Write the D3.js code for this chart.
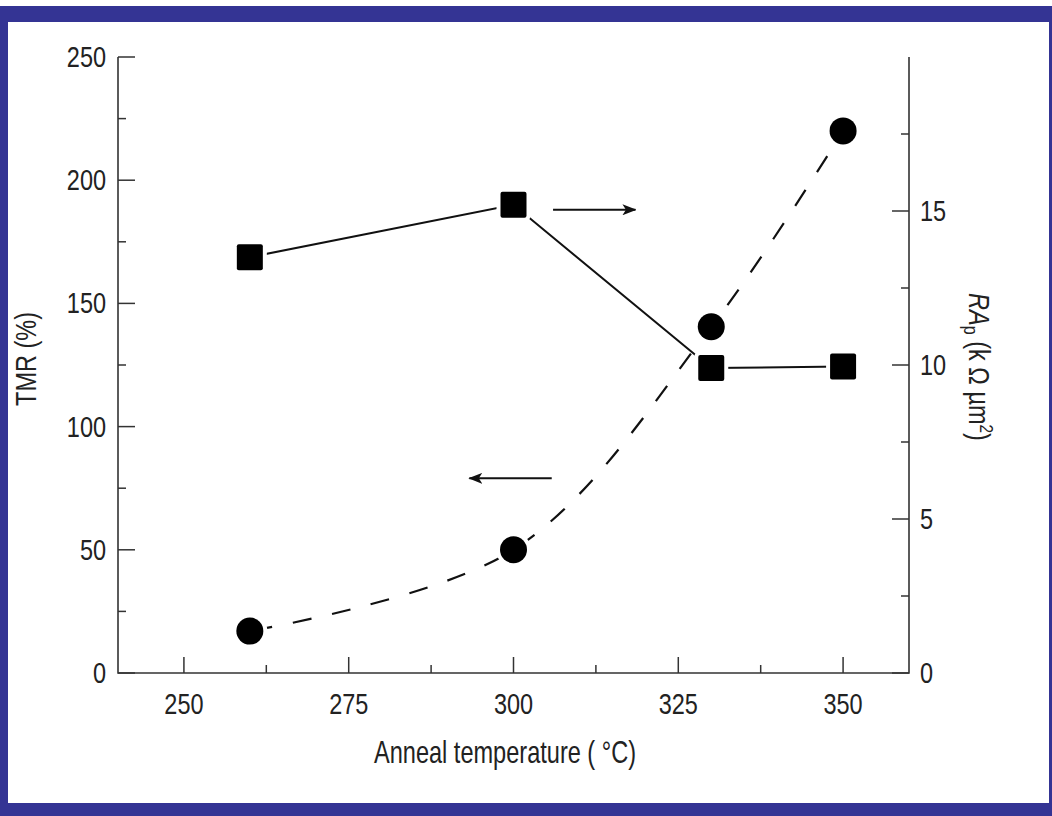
<!DOCTYPE html>
<html>
<head>
<meta charset="utf-8">
<script src="https://cdn.jsdelivr.net/npm/d3@7"></script>
<style>
  html, body { margin: 0; padding: 0; background: #fff; }
  svg text { font-family: "Liberation Sans", Arial, sans-serif; fill: #222; }
</style>
</head>
<body>
<svg id="chart" width="1052" height="816"></svg>
<script>
// anneal temperatures (°C)
const temps = [260, 300, 330, 350]
// TMR (%) - circles, dashed, left axis
const tmr = [17, 50, 140.5, 220]
// RA_p (kOhm um^2) - squares, solid, right axis
const rap = [13.5, 15.2, 9.9, 9.95]

const xTicks = [250, 275, 300, 325, 350]
const yLeftTicks = [0, 50, 100, 150, 200, 250]
const yRightTicks = [0, 5, 10, 15]

// arrows pointing at the axis each series belongs to: [x0, x1, TMR level]
const arrowRight = [306, 318.5, 188]
const arrowLeft = [305.8, 293.3, 79]

const svg = d3.select('#chart')
const margin = { left: 118, right: 909, top: 57, bottom: 673 }
const narrow = 0.81 // squeeze glyphs to look like a narrow sans

// blue frame
svg.append('rect').attr('x', 0).attr('y', 6).attr('width', 1052).attr('height', 810).attr('fill', '#343494')
svg.append('rect').attr('x', 8).attr('y', 22).attr('width', 1041).attr('height', 781).attr('fill', '#fff')

const x = d3.scaleLinear().domain([240, 360]).range([margin.left, margin.right])
const yL = d3.scaleLinear().domain([0, 250]).range([margin.bottom, margin.top])
const yR = d3.scaleLinear().domain([0, 20]).range([margin.bottom, margin.top])

const axisColor = '#333'

function drawTicks(g, values, pos, len, horizontal, dir) {
  values.forEach(v => {
    const p = pos(v)
    if (horizontal) {
      g.append('line').attr('x1', p).attr('x2', p).attr('y1', margin.bottom).attr('y2', margin.bottom - len)
        .attr('stroke', axisColor).attr('stroke-width', 1.5)
    } else {
      const x0 = dir > 0 ? margin.left : margin.right
      g.append('line').attr('x1', x0).attr('x2', x0 + dir * len).attr('y1', p).attr('y2', p)
        .attr('stroke', axisColor).attr('stroke-width', 1.5)
    }
  })
}

// narrow text helper
function label(g, tx, ty, str, size, anchor, rot) {
  return g.append('text')
    .attr('transform', `translate(${tx},${ty})` + (rot ? ` rotate(${rot})` : '') + ` scale(${narrow},1)`)
    .attr('text-anchor', anchor).attr('font-size', size).text(str)
}

const axes = svg.append('g').attr('class', 'axes')

// major + minor ticks, all pointing inward
drawTicks(axes, xTicks, x, 16, true)
drawTicks(axes, d3.range(262.5, 360, 25), x, 8, true)
drawTicks(axes, yLeftTicks, yL, 17, false, 1)
drawTicks(axes, d3.range(25, 250, 50), yL, 8, false, 1)
drawTicks(axes, yRightTicks, yR, 17, false, -1)
drawTicks(axes, d3.range(2.5, 20, 5), yR, 8, false, -1)

// frame lines: left, bottom, right (no top)
axes.append('path')
  .attr('d', `M${margin.left},${margin.top}V${margin.bottom}H${margin.right}V${margin.top}`)
  .attr('fill', 'none').attr('stroke', axisColor).attr('stroke-width', 1.6)

// tick labels
const fs = 29
xTicks.forEach(d => label(axes, x(d), 714, d, fs, 'middle'))
yLeftTicks.forEach(d => label(axes, 106, yL(d) + 10, d, fs, 'end'))
yRightTicks.forEach(d => label(axes, 920, yR(d) + 10, d, fs, 'start'))

// axis titles
label(svg, 505, 763, 'Anneal temperature ( \u00b0C)', 31, 'middle').attr('transform', 'translate(505,763) scale(0.76,1)')
label(svg, 36, 359, 'TMR (%)', 29, 'middle', -90)
const rt = label(svg, 969, 367, '', 29, 'middle', 90)
rt.append('tspan').attr('font-style', 'italic').text('RA')
rt.append('tspan').attr('font-size', 20).attr('dy', 5).text('p')
rt.append('tspan').attr('dy', -5).text(' (k \u03a9 \u00b5m')
rt.append('tspan').attr('font-size', 19).attr('dy', -11).text('2')
rt.append('tspan').attr('dy', 11).text(')')

// series lines
const tmrData = temps.map((t, i) => ({ t, v: tmr[i] }))
const rapData = temps.map((t, i) => ({ t, v: rap[i] }))

svg.append('path').datum(tmrData)
  .attr('d', d3.line().x(d => x(d.t)).y(d => yL(d.v)).curve(d3.curveCatmullRom.alpha(0.5)))
  .attr('fill', 'none').attr('stroke', '#111').attr('stroke-width', 2.2)
  .attr('stroke-dasharray', '19 21').attr('stroke-dashoffset', -4)

svg.append('path').datum(rapData)
  .attr('d', d3.line().x(d => x(d.t)).y(d => yR(d.v)))
  .attr('fill', 'none').attr('stroke', '#111').attr('stroke-width', 2)

// markers with white halo so lines stop short of them
svg.selectAll('.sq').data(rapData).join('rect')
  .attr('x', d => x(d.t) - 13).attr('y', d => yR(d.v) - 13)
  .attr('width', 26).attr('height', 26).attr('rx', 2)
  .attr('fill', '#000').attr('stroke', '#fff').attr('stroke-width', 8).attr('paint-order', 'stroke')

svg.selectAll('.dot').data(tmrData).join('circle')
  .attr('cx', d => x(d.t)).attr('cy', d => yL(d.v)).attr('r', 13.5)
  .attr('fill', '#000').attr('stroke', '#fff').attr('stroke-width', 8).attr('paint-order', 'stroke')

// arrows
const defs = svg.append('defs')
defs.append('marker').attr('id', 'head').attr('viewBox', '0 0 14 11')
  .attr('refX', 13).attr('refY', 5.5).attr('markerWidth', 14).attr('markerHeight', 11)
  .attr('markerUnits', 'userSpaceOnUse').attr('orient', 'auto')
  .append('path').attr('d', 'M0,0L14,5.5L0,11L3.5,5.5Z').attr('fill', '#111')

;[arrowRight, arrowLeft].forEach(a => {
  svg.append('line')
    .attr('x1', x(a[0])).attr('x2', x(a[1])).attr('y1', yL(a[2])).attr('y2', yL(a[2]))
    .attr('stroke', '#111').attr('stroke-width', 2).attr('marker-end', 'url(#head)')
})
</script>
</body>
</html>
